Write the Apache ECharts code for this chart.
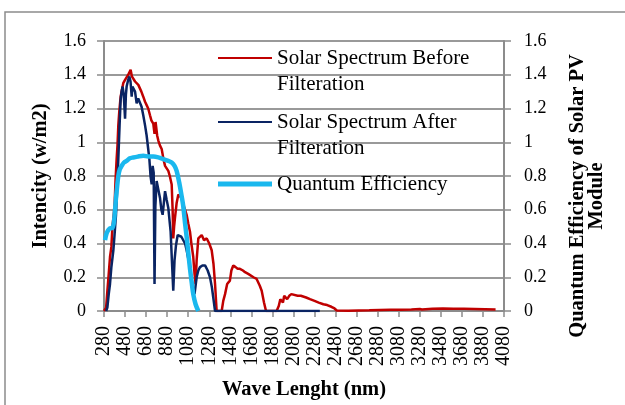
<!DOCTYPE html>
<html>
<head>
<meta charset="utf-8">
<script src="https://cdn.jsdelivr.net/npm/echarts@6/dist/echarts.min.js"></script>
<style>
  html, body { margin: 0; padding: 0; background: #fff; }
  #main { width: 625px; height: 405px; }
</style>
</head>
<body>
<div id="main"></div>
<script>
// wavelength ticks on the x axis
var xTicks = [280, 480, 680, 880, 1080, 1280, 1480, 1680, 1880, 2080, 2280, 2480,
  2680, 2880, 3080, 3280, 3480, 3680, 3880, 4080];

// solar spectrum before filteration
var redNm = [280, 300, 312, 325, 337, 350, 360, 369, 380, 390, 400, 408, 416, 425, 438, 450, 463, 480, 495, 510,
  520, 533, 545, 558, 575, 590, 606, 620, 635, 653, 670, 685, 700, 717, 730, 748, 760, 770, 785, 796,
  812, 828, 845, 860, 875, 891, 905, 923, 932, 938, 946, 954, 970, 986, 1000, 1018, 1040, 1065, 1080, 1097,
  1110, 1128, 1140, 1151, 1160, 1176, 1190, 1208, 1230, 1256, 1280, 1303, 1320, 1335, 1350, 1398, 1413, 1430, 1450, 1476,
  1490, 1508, 1530, 1550, 1571, 1600, 1620, 1650, 1667, 1700, 1730, 1746, 1760, 1778, 1800, 1819, 1920, 1940, 1955, 1968,
  1980, 1992, 2005, 2020, 2040, 2060, 2078, 2120, 2150, 2200, 2237, 2280, 2320, 2364, 2400, 2440, 2470, 2491, 2600, 2700,
  2800, 2900, 3000, 3100, 3200, 3280, 3300, 3400, 3500, 3600, 3700, 3800, 3900, 4000];
var redVal = [0, 0.02, 0.12, 0.22, 0.32, 0.38, 0.50, 0.55, 0.62, 0.78, 0.90, 0.98, 1.10, 1.18, 1.27, 1.31, 1.35, 1.37, 1.38, 1.40,
  1.39, 1.43, 1.39, 1.38, 1.36, 1.37, 1.34, 1.33, 1.30, 1.27, 1.24, 1.22, 1.20, 1.16, 1.13, 1.11, 1.05, 1.12, 1.04, 1.01,
  0.98, 0.96, 0.90, 0.86, 0.86, 0.83, 0.80, 0.75, 0.60, 0.43, 0.50, 0.55, 0.64, 0.69, 0.70, 0.67, 0.62, 0.57, 0.52, 0.47,
  0.40, 0.32, 0.22, 0.16, 0.30, 0.43, 0.44, 0.45, 0.42, 0.43, 0.40, 0.36, 0.28, 0.16, 0, 0, 0.06, 0.10, 0.16, 0.18,
  0.24, 0.27, 0.26, 0.25, 0.25, 0.24, 0.23, 0.22, 0.22, 0.20, 0.19, 0.18, 0.15, 0.12, 0.05, 0, 0, 0.03, 0.07, 0.08,
  0.05, 0.09, 0.10, 0.07, 0.09, 0.10, 0.10, 0.09, 0.09, 0.08, 0.07, 0.06, 0.05, 0.04, 0.035, 0.025, 0.015, 0.003, 0.002, 0.003,
  0.004, 0.006, 0.007, 0.008, 0.009, 0.012, 0.009, 0.013, 0.015, 0.014, 0.013, 0.012, 0.011, 0.009];

// solar spectrum after filteration
var blueNm = [300, 312, 325, 337, 350, 369, 380, 394, 405, 416, 428, 438, 447, 457, 468, 480, 488, 495, 510, 521,
  532, 543, 550, 558, 575, 590, 605, 622, 637, 653, 670, 685, 700, 711, 722, 733, 742, 752, 760, 768,
  780, 796, 812, 825, 837, 860, 875, 891, 913, 925, 938, 950, 964, 980, 995, 1015, 1033, 1050, 1065, 1090,
  1110, 1128, 1140, 1160, 1176, 1192, 1215, 1240, 1265, 1287, 1305, 1318, 1335, 2330];
var blueVal = [0, 0.02, 0.10, 0.16, 0.26, 0.36, 0.45, 0.57, 0.72, 0.90, 1.10, 1.25, 1.30, 1.33, 1.28, 1.14, 1.28, 1.33, 1.37, 1.39,
  1.36, 1.27, 1.33, 1.34, 1.30, 1.23, 1.26, 1.27, 1.21, 1.16, 1.10, 1.04, 0.96, 0.90, 0.80, 0.75, 0.86, 0.82, 0.16, 0.62,
  0.77, 0.72, 0.67, 0.60, 0.57, 0.71, 0.66, 0.61, 0.47, 0.30, 0.12, 0.30, 0.39, 0.45, 0.46, 0.44, 0.43, 0.40, 0.36, 0.28,
  0.20, 0.12, 0.10, 0.20, 0.24, 0.26, 0.27, 0.27, 0.24, 0.20, 0.14, 0.08, 0, 0];

// quantum efficiency of the PV module
var qeNm = [290, 305, 321, 337, 353, 365, 375, 385, 394, 405, 416, 430, 448, 470, 495, 525, 558, 600, 653, 700,
  750, 796, 844, 890, 923, 950, 970, 995, 1015, 1033, 1050, 1065, 1080, 1097, 1113, 1128, 1150, 1176];
var qeVal = [0.42, 0.46, 0.48, 0.49, 0.49, 0.50, 0.53, 0.60, 0.67, 0.74, 0.80, 0.84, 0.86, 0.88, 0.89, 0.905, 0.91, 0.915, 0.92, 0.915,
  0.915, 0.91, 0.90, 0.89, 0.88, 0.86, 0.83, 0.76, 0.69, 0.62, 0.52, 0.44, 0.35, 0.25, 0.17, 0.10, 0.04, 0];

var seriesNames = ['Solar Spectrum Before Filteration', 'Solar Spectrum After Filteration', 'Quantum Efficiency'];
var legendLabels = ['\nSolar Spectrum Before\nFilteration', '\nSolar Spectrum After\nFilteration', 'Quantum Efficiency'];

function pairs(xs, ys) {
  var out = [];
  for (var i = 0; i < xs.length; i++) out.push([xs[i], ys[i]]);
  return out;
}

var serif = 'Liberation Serif';
var gray = '#8c8c8c';

var chart = echarts.init(document.getElementById('main'), null, { renderer: 'canvas' });

var legendText = { fontFamily: serif, fontSize: 21, color: '#000', lineHeight: 26 };
var titleText = { fontFamily: serif, fontSize: 20.5, fontWeight: 'bold', color: '#000' };

function legendAt(i, top, thick) {
  return {
    data: [seriesNames[i]],
    left: 218, top: top, padding: 0,
    icon: 'rect',
    itemWidth: 54, itemHeight: thick,
    formatter: function () { return legendLabels[i]; },
    textStyle: legendText
  };
}

var option = {
  animation: false,
  backgroundColor: '#fff',
  grid: { left: 104, right: 121, top: 41, bottom: 91 },
  graphic: [{
    type: 'rect',
    shape: { x: 5, y: 12, width: 700, height: 500 },
    style: { fill: 'none', stroke: '#8c8c8c', lineWidth: 1.5 },
    silent: true
  }],
  legend: [legendAt(0, 19, 2), legendAt(1, 83, 2), legendAt(2, 171, 5)],
  xAxis: {
    type: 'value',
    min: 280,
    max: 4080,
    name: 'Wave Lenght (nm)',
    nameLocation: 'middle',
    nameGap: 68,
    nameTextStyle: titleText,
    axisLine: { lineStyle: { color: gray, width: 2 } },
    axisTick: { show: true, length: 6, customValues: xTicks, lineStyle: { color: gray, width: 1.5 } },
    axisLabel: {
      customValues: xTicks,
      rotate: 90,
      margin: 15,
      fontFamily: serif,
      fontSize: 20,
      color: '#000',
      formatter: function (v) { return String(v); }
    },
    splitLine: { show: false }
  },
  yAxis: [{
    type: 'value',
    min: 0,
    max: 1.6,
    interval: 0.2,
    name: 'Intencity (w/m2)',
    nameLocation: 'middle',
    nameRotate: 90,
    nameGap: 53,
    nameTextStyle: titleText,
    axisLine: { show: true, lineStyle: { color: gray, width: 2 } },
    axisTick: { show: true, length: 7, lineStyle: { color: gray, width: 1.5 } },
    axisLabel: { margin: 18, fontFamily: serif, fontSize: 18, color: '#000' },
    splitLine: { show: true, lineStyle: { color: '#999', width: 2 } }
  }, {
    type: 'value',
    min: 0,
    max: 1.6,
    interval: 0.2,
    position: 'right',
    name: 'Quantum Efficiency of Solar PV\nModule',
    nameLocation: 'middle',
    nameRotate: 90,
    nameGap: 64,
    nameTextStyle: Object.assign({ lineHeight: 19, padding: [0, 40, 0, 0] }, titleText),
    axisLine: { show: true, lineStyle: { color: gray, width: 2 } },
    axisTick: { show: true, length: 7, lineStyle: { color: gray, width: 1.5 } },
    axisLabel: { margin: 20, fontFamily: serif, fontSize: 18, color: '#000' },
    splitLine: { show: false }
  }],
  series: [{
    name: seriesNames[0],
    type: 'line',
    symbol: 'none',
    color: '#C00000',
    lineStyle: { width: 2.5 },
    data: pairs(redNm, redVal)
  }, {
    name: seriesNames[1],
    type: 'line',
    symbol: 'none',
    color: '#0A2463',
    lineStyle: { width: 2.5 },
    data: pairs(blueNm, blueVal)
  }, {
    name: seriesNames[2],
    type: 'line',
    symbol: 'none',
    smooth: 0.3,
    yAxisIndex: 1,
    color: '#1AB8EE',
    lineStyle: { width: 4.5 },
    data: pairs(qeNm, qeVal)
  }]
};

chart.setOption(option);
</script>
</body>
</html>
